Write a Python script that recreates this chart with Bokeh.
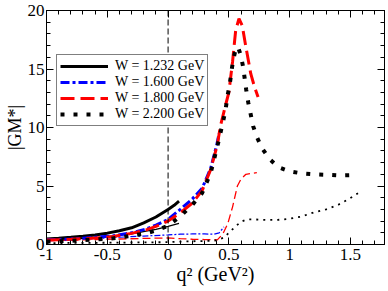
from bokeh.plotting import figure
from bokeh.models import (LinearAxis, SingleIntervalTicker, CustomJSTickFormatter,
                          Span, Legend, LegendItem)
from bokeh.embed import file_html
from bokeh.resources import INLINE

# ---------------- data ----------------
# W = 1.232 GeV (solid black)
w1232_x_a = [-1.0, -0.9, -0.8, -0.7, -0.6, -0.5, -0.4, -0.3, -0.2, -0.1, 0.0, 0.05, 0.09]
w1232_y_a = [0.48, 0.54, 0.62, 0.71, 0.82, 0.97, 1.17, 1.43, 1.85, 2.35, 3.0, 3.35, 3.7]
w1232_x_b = [-1.0, -0.8, -0.6, -0.45, -0.3, -0.18, -0.1, 0.0, 0.09]
w1232_y_b = [0.38, 0.46, 0.56, 0.74, 0.92, 1.15, 1.3, 1.55, 1.8]

# W = 1.600 GeV (blue dash-dot)
w1600_x_a = [-1.0, -0.8, -0.6, -0.45, -0.3, -0.18, -0.1, 0.0, 0.1, 0.2, 0.28, 0.35, 0.4, 0.42]
w1600_y_a = [0.4, 0.47, 0.62, 0.74, 1.0, 1.33, 1.65, 2.15, 3.0, 3.9, 4.8, 6.5, 8.5, 9.5]
w1600_x_b = [-1.0, -0.8, -0.6, -0.4, -0.2, 0.0, 0.1, 0.2, 0.3, 0.38, 0.42, 0.46]
w1600_y_b = [0.33, 0.4, 0.5, 0.62, 0.72, 0.82, 0.88, 0.9, 0.9, 0.88, 1.0, 1.5]

# W = 1.800 GeV (red dashed)
w1800_x_a = [-1.0, -0.8, -0.6, -0.45, -0.3, -0.18, -0.1, 0.0, 0.1, 0.2, 0.28, 0.35, 0.405,
             0.43, 0.47, 0.5, 0.53, 0.556, 0.583, 0.61, 0.638, 0.68, 0.71, 0.74]
w1800_y_a = [0.38, 0.44, 0.55, 0.68, 0.95, 1.25, 1.55, 2.0, 2.7, 3.55, 4.6, 6.4, 8.5,
             10.1, 11.8, 13.0, 15.6, 18.3, 19.3, 18.7, 17.0, 14.6, 13.5, 12.6]
w1800_x_b = [-1.0, -0.8, -0.6, -0.4, -0.2, 0.0, 0.1, 0.2, 0.3, 0.405, 0.45, 0.49, 0.53,
             0.57, 0.6, 0.64, 0.73]
w1800_y_b = [0.33, 0.37, 0.42, 0.47, 0.52, 0.56, 0.5, 0.45, 0.42, 0.4, 0.9, 1.75, 3.2,
             5.0, 5.6, 6.0, 6.15]

# W = 2.200 GeV (black dotted)
w2200_x_a = [-1.0, -0.8, -0.6, -0.45, -0.3, -0.18, -0.1, 0.0, 0.1, 0.2, 0.28, 0.35, 0.41,
             0.43, 0.454, 0.473, 0.487, 0.506, 0.52, 0.534, 0.556, 0.575, 0.597, 0.616,
             0.63, 0.643, 0.66, 0.68, 0.70, 0.734, 0.775, 0.835, 0.91, 1.0, 1.1, 1.2,
             1.3, 1.4, 1.5, 1.55]
w2200_y_a = [0.25, 0.32, 0.42, 0.53, 0.75, 0.96, 1.2, 1.6, 2.4, 3.4, 4.4, 6.1, 8.6,
             9.5, 10.6, 11.5, 12.6, 13.6, 14.7, 15.7, 16.7, 16.9, 16.2, 15.25,
             14.2, 13.2, 12.1, 11.1, 10.1, 9.1, 8.2, 7.3, 6.6, 6.25, 6.08, 6.0,
             5.96, 5.9, 5.93, 5.95]
w2200_x_b = [-1.0, -0.5, 0.0, 0.1, 0.3, 0.4, 0.46, 0.48, 0.52, 0.56, 0.605, 0.65, 0.7,
             0.8, 0.9, 1.0, 1.1, 1.2, 1.3, 1.4, 1.49, 1.565]
w2200_y_b = [0.12, 0.15, 0.2, 0.25, 0.3, 0.35, 0.6, 0.8, 1.2, 1.6, 1.97, 2.15, 2.15,
             2.1, 2.1, 2.2, 2.4, 2.75, 3.0, 3.4, 3.9, 4.4]

legend_labels = ["W = 1.232 GeV", "W = 1.600 GeV", "W = 1.800 GeV", "W = 2.200 GeV"]
x_title = "q\u00b2 (GeV\u00b2)"
y_title = "|GM*|"
x_tick_interval = 0.5
y_tick_interval = 5

FONT = "Liberation Serif"

FL, FT, FW, FH = 46, 10, 338, 234   # frame left/top/width/height in canvas px
p = figure(frame_width=FW, frame_height=FH,
           x_range=(-1, 1.78), y_range=(0, 20),
           output_backend="svg", toolbar_location=None,
           min_border_left=FL, min_border_right=4,
           min_border_top=FT, min_border_bottom=47,
           background_fill_color="white", border_fill_color="white")
p.grid.visible = False
p.outline_line_color = "black"
p.outline_line_width = 1

xt = SingleIntervalTicker(interval=x_tick_interval, num_minor_ticks=5)
yt = SingleIntervalTicker(interval=y_tick_interval, num_minor_ticks=5)
fmt = CustomJSTickFormatter(code="return Number(tick.toFixed(2)).toString();")
blank = CustomJSTickFormatter(code="return '';")

bottom = p.below[0]
left = p.left[0]
bottom.ticker = xt
left.ticker = yt
bottom.formatter = fmt
left.formatter = fmt

top = LinearAxis(ticker=xt, formatter=blank)
right = LinearAxis(ticker=yt, formatter=blank)
p.add_layout(top, "above")
p.add_layout(right, "right")

for ax in [bottom, left, top, right]:
    ax.major_tick_in = 7
    ax.major_tick_out = 0
    ax.minor_tick_in = 4
    ax.minor_tick_out = 0
    ax.axis_line_color = "black"
    ax.major_tick_line_color = "black"
    ax.minor_tick_line_color = "black"
    ax.major_label_text_font = FONT
    ax.major_label_text_font_size = "17px"
    ax.major_label_text_color = "black"
for ax in [top, right]:
    ax.major_label_text_font_size = "0px"
    ax.major_label_standoff = 0
left.major_label_standoff = 2
bottom.major_label_standoff = 4

bottom.axis_label = x_title
left.axis_label = y_title
for ax in [bottom, left]:
    ax.axis_label_text_font = FONT
    ax.axis_label_text_font_style = "normal"
    ax.axis_label_text_color = "black"
bottom.axis_label_text_font_size = "20px"
bottom.axis_label_standoff = 0
left.axis_label_text_font_size = "18px"
left.axis_label_standoff = 0

# vertical dashed line at q^2 = 0
p.add_layout(Span(location=0, dimension="height", line_color="black",
                  line_dash="6 3", line_width=1))

# thin branches
p.line(w1232_x_b, w1232_y_b, line_color="black", line_width=1.3)
p.line(w1600_x_b, w1600_y_b, line_color="blue", line_width=1.2, line_dash="6 2 2 2")
p.line(w1800_x_b, w1800_y_b, line_color="red", line_width=1.3, line_dash="8 4")
p.line(w2200_x_b, w2200_y_b, line_color="black", line_width=1.8, line_dash="2 5")

# thick branches
r1 = p.line(w1232_x_a, w1232_y_a, line_color="black", line_width=3)
r2 = p.line(w1600_x_a, w1600_y_a, line_color="blue", line_width=3, line_dash="9 3 3 3")
r3 = p.line(w1800_x_a, w1800_y_a, line_color="red", line_width=3, line_dash="14 6")
r4 = p.line(w2200_x_a, w2200_y_a, line_color="black", line_width=4, line_dash="4 9")

legend = Legend(items=[LegendItem(label=legend_labels[0], renderers=[r1]),
                       LegendItem(label=legend_labels[1], renderers=[r2]),
                       LegendItem(label=legend_labels[2], renderers=[r3]),
                       LegendItem(label=legend_labels[3], renderers=[r4])],
                location=(10, 118), margin=0, padding=3, spacing=0,
                glyph_width=48, glyph_height=12, label_height=12,
                label_standoff=7, label_text_font=FONT, label_text_font_size="14px",
                label_text_color="black",
                border_line_color="black", border_line_width=1,
                background_fill_color="white", background_fill_alpha=1)
p.add_layout(legend, "center")

open("out.html", "w").write(file_html(p, INLINE))
